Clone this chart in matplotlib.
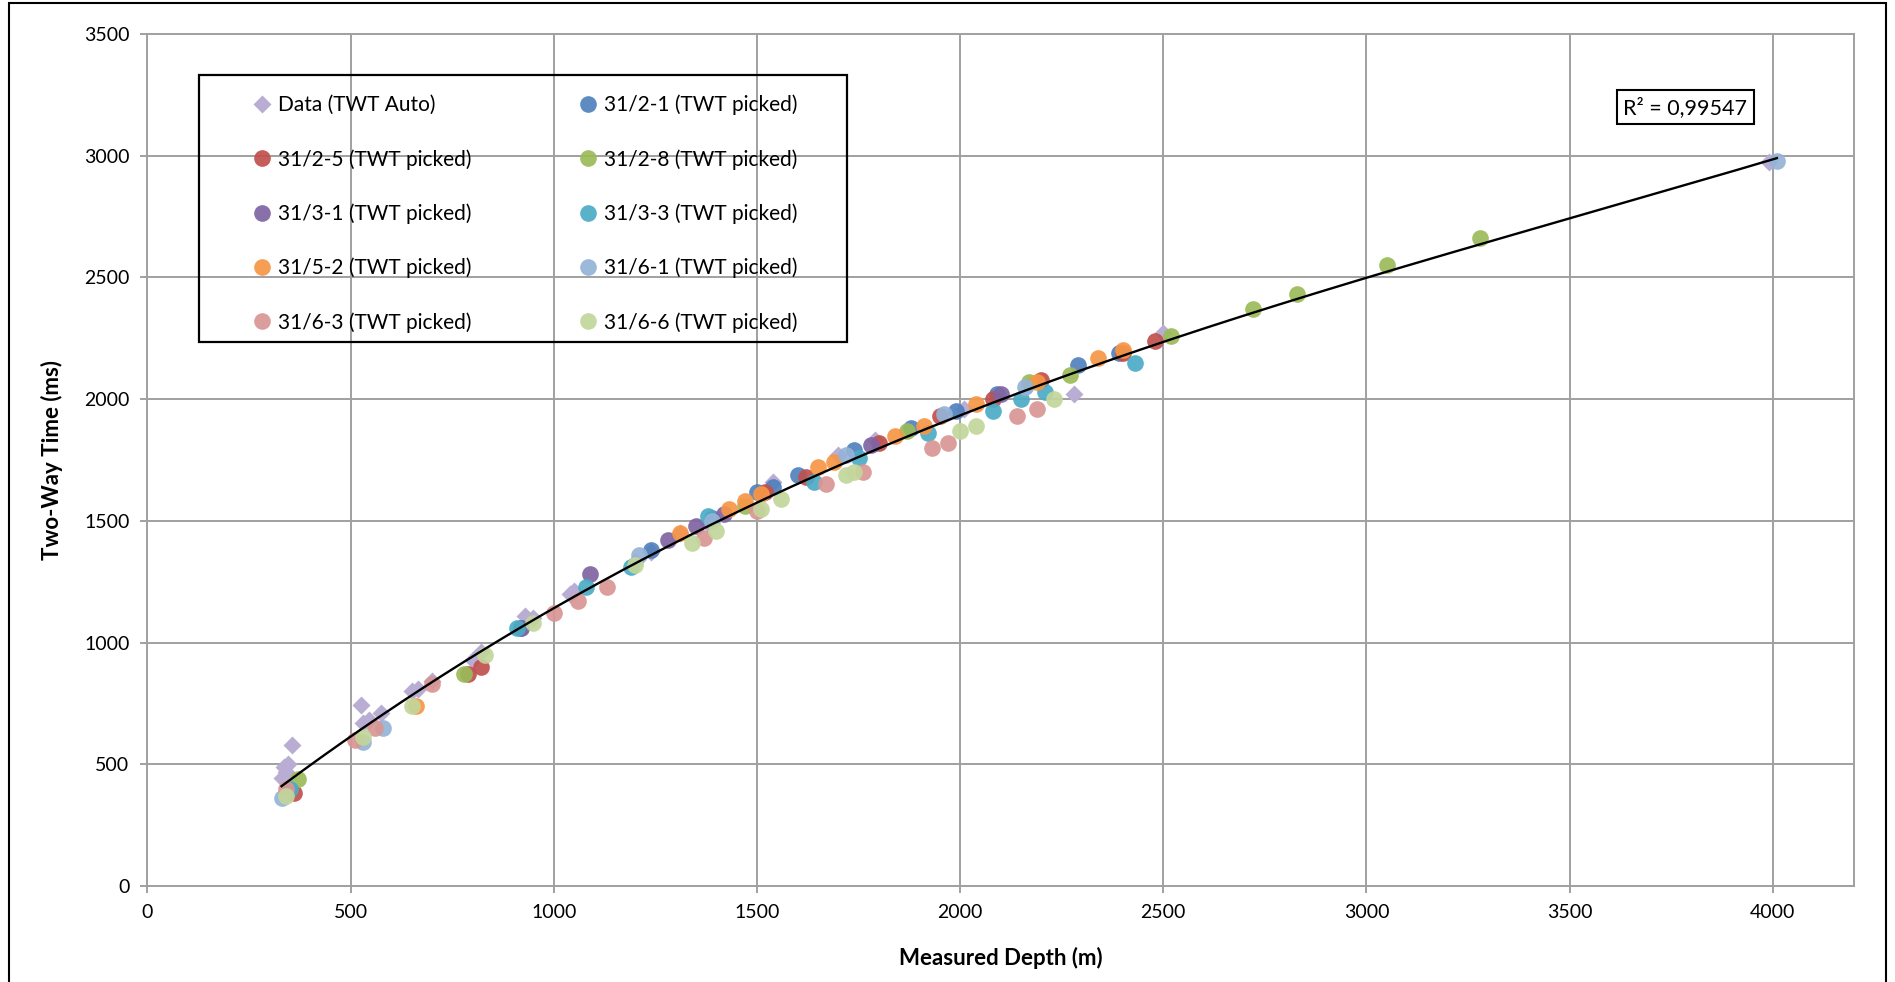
import numpy as np
import matplotlib.pyplot as plt
from matplotlib.patches import Rectangle

plt.rcParams["font.family"] = ["Lato", "DejaVu Sans"]

# ── Depth (m) / two-way time (ms) per well ───────────────────────────────────
auto_md  = [330, 335, 345, 355, 340, 525, 530, 545, 575, 650, 665, 700, 800, 820,
            930, 950, 1040, 1050, 1200, 1240, 1310, 1380, 1540, 1700, 1790, 2010,
            2170, 2280, 2500, 3990]
auto_twt = [445, 490, 500, 580, 470, 745, 670, 680, 710, 800, 810, 840, 930, 960,
            1110, 1100, 1200, 1210, 1330, 1370, 1450, 1490, 1660, 1770, 1830, 1960,
            2060, 2020, 2270, 2975]

w312_1_md  = [920, 1240, 1390, 1500, 1540, 1600, 1740, 1880, 1990, 2090, 2290, 2390]
w312_1_twt = [1060, 1380, 1510, 1620, 1640, 1690, 1790, 1880, 1950, 2020, 2140, 2190]

w312_5_md  = [360, 790, 820, 1520, 1620, 1800, 1950, 2080, 2200, 2400, 2480]
w312_5_twt = [380, 870, 900, 1620, 1680, 1820, 1930, 2000, 2080, 2190, 2240]

w312_8_md  = [370, 780, 1470, 1870, 2170, 2270, 2520, 2720, 2830, 3050, 3280]
w312_8_twt = [440, 870, 1560, 1870, 2070, 2100, 2260, 2370, 2430, 2550, 2660]

w313_1_md  = [920, 1090, 1280, 1350, 1420, 1780, 2100]
w313_1_twt = [1060, 1280, 1420, 1480, 1530, 1810, 2020]

w313_3_md  = [350, 910, 1080, 1190, 1380, 1640, 1750, 1920, 2080, 2150, 2210, 2430]
w313_3_twt = [400, 1060, 1230, 1310, 1520, 1660, 1760, 1860, 1950, 2000, 2030, 2150]

w315_2_md  = [660, 1310, 1430, 1470, 1510, 1650, 1690, 1840, 1910, 2040, 2190, 2340, 2400]
w315_2_twt = [740, 1450, 1550, 1580, 1610, 1720, 1740, 1850, 1890, 1980, 2070, 2170, 2200]

w316_1_md  = [330, 530, 580, 1210, 1390, 1720, 1960, 2160, 4010]
w316_1_twt = [360, 590, 650, 1360, 1500, 1770, 1940, 2050, 2980]

w316_3_md  = [340, 510, 560, 700, 1000, 1060, 1130, 1370, 1500, 1670, 1760, 1930,
              1970, 2140, 2190]
w316_3_twt = [400, 600, 650, 830, 1120, 1170, 1230, 1430, 1540, 1650, 1700, 1800,
              1820, 1930, 1960]

w316_6_md  = [340, 530, 650, 830, 950, 1200, 1340, 1400, 1510, 1560, 1720, 1740,
              2000, 2040, 2230]
w316_6_twt = [370, 610, 740, 950, 1080, 1320, 1410, 1460, 1550, 1590, 1690, 1700,
              1870, 1890, 2000]

picked = [
    ("31/2-1 (TWT picked)", w312_1_md, w312_1_twt, "#4F81BD"),
    ("31/2-5 (TWT picked)", w312_5_md, w312_5_twt, "#C0504D"),
    ("31/2-8 (TWT picked)", w312_8_md, w312_8_twt, "#9BBB59"),
    ("31/3-1 (TWT picked)", w313_1_md, w313_1_twt, "#8064A2"),
    ("31/3-3 (TWT picked)", w313_3_md, w313_3_twt, "#4BACC6"),
    ("31/5-2 (TWT picked)", w315_2_md, w315_2_twt, "#F79646"),
    ("31/6-1 (TWT picked)", w316_1_md, w316_1_twt, "#95B3D7"),
    ("31/6-3 (TWT picked)", w316_3_md, w316_3_twt, "#D99694"),
    ("31/6-6 (TWT picked)", w316_6_md, w316_6_twt, "#C3D69B"),
]
r2_text = "R² = 0,99547"

fig = plt.figure(figsize=(18.95, 9.82), dpi=100)
ax = fig.add_axes([0.0778, 0.0978, 0.9006, 0.8676])

grid_col = "#A0A0A0"
handles = []
h = ax.plot(auto_md, auto_twt, "D", color="#B9ADD3", markersize=9, mec="none",
            label="Data (TWT Auto)", zorder=3)[0]
handles.append(h)
for name, md, twt, col in picked:
    h = ax.plot(md, twt, "o", color=col, markersize=12, mec="none", alpha=0.92,
                label=name, zorder=3)[0]
    handles.append(h)

# cubic trend through every depth/time pair
all_md = np.concatenate([auto_md] + [p[1] for p in picked])
all_twt = np.concatenate([auto_twt] + [p[2] for p in picked])
coef = np.polyfit(all_md, all_twt, 3)
xs = np.linspace(all_md.min(), all_md.max(), 300)
ax.plot(xs, np.polyval(coef, xs), color="black", lw=1.7, zorder=4)

ax.set_xlim(0, 4200)
ax.set_ylim(0, 3500)
ax.set_xticks(np.arange(0, 4001, 500))
ax.set_yticks(np.arange(0, 3501, 500))
ax.grid(True, color=grid_col, lw=1.4)
ax.set_axisbelow(True)
for s in ax.spines.values():
    s.set_color(grid_col)
    s.set_linewidth(1.4)
ax.tick_params(length=5, width=1.4, color=grid_col, labelsize=14, pad=8)

ax.set_xlabel("Measured Depth (m)", fontsize=16, fontweight="bold", labelpad=19)
ax.set_ylabel("Two-Way Time (ms)", fontsize=16, fontweight="bold", labelpad=15)

# legend is laid out row by row: reorder for matplotlib's column filling
order = [0, 2, 4, 6, 8, 1, 3, 5, 7, 9]
leg = ax.legend([handles[i] for i in order], [handles[i].get_label() for i in order],
                ncol=2, loc="upper left", bbox_to_anchor=(0.055, 0.941),
                fontsize=15, frameon=False, borderpad=0, labelspacing=1.62,
                handlelength=1.0, handletextpad=0.25, columnspacing=5.1,
                numpoints=1)
# legend frame
ax.add_patch(Rectangle((0.0305, 0.638), 0.3795, 0.314, transform=ax.transAxes,
                       fill=False, edgecolor="black", lw=1.6, zorder=5))

ax.text(0.901, 0.914, r2_text, transform=ax.transAxes, fontsize=15.5,
        ha="center", va="center",
        bbox=dict(boxstyle="square,pad=0.3", facecolor="white", edgecolor="black", lw=1.5))

# outer chart border
fig.patches.append(Rectangle((0.005, -0.02), 0.99, 1.017, transform=fig.transFigure,
                             fill=False, edgecolor="black", lw=1.5))

fig.savefig("out.png", dpi=100)
